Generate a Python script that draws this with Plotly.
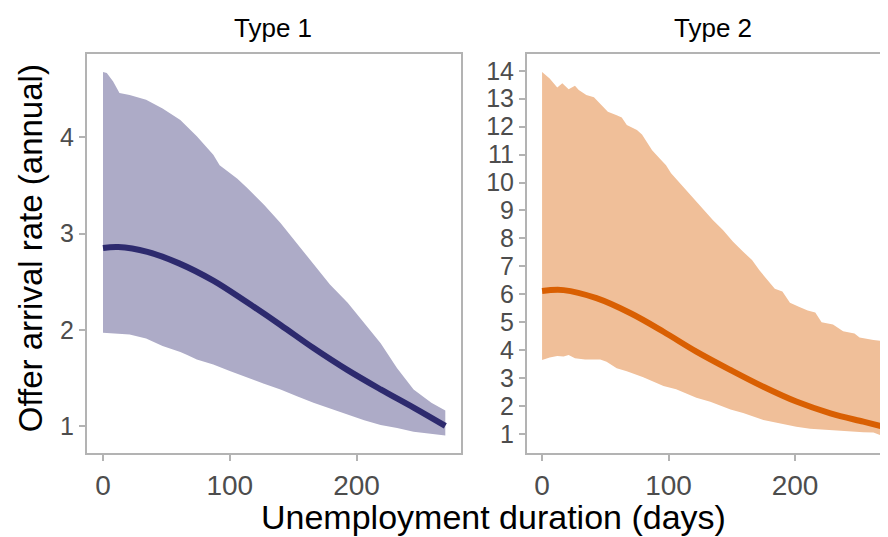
import plotly.graph_objects as go

# Type 1
t1_x = [0, 12, 35, 60, 87, 113, 140, 166, 193, 219, 245, 270]
t1_mid = [2.85, 2.86, 2.81, 2.69, 2.51, 2.29, 2.05, 1.81, 1.58, 1.38, 1.19, 1.00]
t1_up_x = [0, 3, 8, 13, 21, 34, 47, 61, 74, 87, 92, 100, 106, 114, 127, 140, 153,
           166, 179, 193, 206, 219, 232, 245, 259, 270]
t1_up = [4.68, 4.67, 4.58, 4.46, 4.44, 4.39, 4.30, 4.18, 4.01, 3.82, 3.71, 3.63, 3.57,
         3.47, 3.30, 3.11, 2.90, 2.69, 2.47, 2.28, 2.07, 1.86, 1.60, 1.38, 1.24, 1.16]
t1_lo_x = [0, 8, 21, 34, 47, 61, 66, 74, 87, 100, 114, 127, 140, 153, 166, 179, 193,
           206, 219, 232, 245, 259, 270]
t1_lo = [1.97, 1.96, 1.95, 1.91, 1.83, 1.77, 1.74, 1.69, 1.64, 1.57, 1.50, 1.44, 1.38,
         1.31, 1.24, 1.18, 1.12, 1.06, 1.01, 0.98, 0.94, 0.92, 0.90]

# Type 2
t2_x = [0, 17, 43, 70, 96, 122, 149, 175, 201, 228, 254, 270]
t2_mid = [6.12, 6.15, 5.86, 5.32, 4.66, 3.95, 3.29, 2.69, 2.16, 1.74, 1.44, 1.26]
t2_up_x = [0, 6, 12, 16, 21, 26, 29, 35, 41, 46, 52, 59, 63, 67, 75, 79, 87, 93, 98,
           102, 109, 120, 129, 135, 143, 151, 159, 166, 172, 179, 184, 190, 196, 203,
           210, 216, 221, 230, 238, 247, 251, 262, 270]
t2_up = [13.96, 13.72, 13.40, 13.55, 13.34, 13.46, 13.31, 13.13, 13.05, 12.83, 12.53,
         12.41, 12.33, 12.06, 11.88, 11.72, 11.16, 10.86, 10.62, 10.33, 9.97, 9.43, 8.96,
         8.66, 8.30, 7.88, 7.52, 7.23, 6.85, 6.45, 6.20, 6.10, 5.70, 5.55, 5.42, 5.35,
         5.00, 4.92, 4.68, 4.60, 4.45, 4.36, 4.33]
t2_lo_x = [0, 6, 12, 17, 21, 26, 34, 46, 51, 59, 67, 80, 96, 106, 122, 133, 149, 159,
           175, 185, 201, 212, 228, 240, 254, 262, 270]
t2_lo = [3.65, 3.74, 3.79, 3.77, 3.83, 3.71, 3.67, 3.67, 3.59, 3.35, 3.25, 3.03, 2.72,
         2.60, 2.30, 2.15, 1.88, 1.75, 1.50, 1.41, 1.26, 1.19, 1.14, 1.10, 1.06, 1.05, 0.92]

panels = [
    ("x", "y", t1_x, t1_mid, t1_up_x, t1_up, t1_lo_x, t1_lo, "#adabc7", "#2d2a6e"),
    ("x2", "y2", t2_x, t2_mid, t2_up_x, t2_up, t2_lo_x, t2_lo, "#f0bf99", "#d95f02"),
]

fig = go.Figure()
for xa, ya, x, mid, ux, up, lx, lo, band, line in panels:
    fig.add_trace(go.Scatter(
        x=ux + lx[::-1], y=up + lo[::-1], xaxis=xa, yaxis=ya,
        fill="toself", fillcolor=band, line=dict(width=0), mode="lines",
        hoverinfo="skip", showlegend=False))
    fig.add_trace(go.Scatter(
        x=x, y=mid, xaxis=xa, yaxis=ya, mode="lines",
        line=dict(color=line, width=6, shape="spline", smoothing=1.0), showlegend=False))

grey = "#b3b3b3"
font = "Liberation Sans, Arial, sans-serif"
ax = dict(showgrid=False, zeroline=False, showline=True, linecolor=grey, linewidth=2,
          ticks="outside", ticklen=6, tickcolor=grey, tickwidth=1.5)
xt = dict(size=28, color="#4d4d4d", family=font)
yt = dict(size=25, color="#4d4d4d", family=font)


def label(text, x, y, size, angle=0):
    return dict(text=text, x=x, y=y, xref="paper", yref="paper", textangle=angle,
                xanchor="center", yanchor="middle", showarrow=False,
                font=dict(size=size, color="black", family=font))


# page body adds an 8px margin, so the figure is 8px smaller than the window
fig.update_layout(
    width=880, height=529,
    margin=dict(l=0, r=0, t=0, b=0),
    plot_bgcolor="white", paper_bgcolor="white",
    xaxis=dict(ax, domain=[0.0898, 0.5148], range=[-12.6, 282.4], mirror=True,
               tickvals=[0, 100, 200], tickfont=xt, anchor="y"),
    yaxis=dict(ax, domain=[0.1588, 0.913], range=[0.719, 4.866], mirror=True,
               tickvals=[1, 2, 3, 4], tickfont=yt, anchor="x"),
    xaxis2=dict(ax, domain=[0.5898, 1.0], range=[-11.9, 273.5], mirror=True,
                tickvals=[0, 100, 200], tickfont=xt, anchor="y2"),
    yaxis2=dict(ax, domain=[0.1588, 0.913], range=[0.32, 14.6],
                tickvals=list(range(1, 15)), tickfont=yt, anchor="x2"),
    annotations=[
        label("Type 1", 0.301, 0.962, 26),
        label("Type 2", 0.801, 0.962, 26),
        label("Unemployment duration (days)", 0.552, 0.038, 34),
        label("Offer arrival rate (annual)", 0.025, 0.546, 33, -90),
    ],
)

fig.write_html("out.html")
